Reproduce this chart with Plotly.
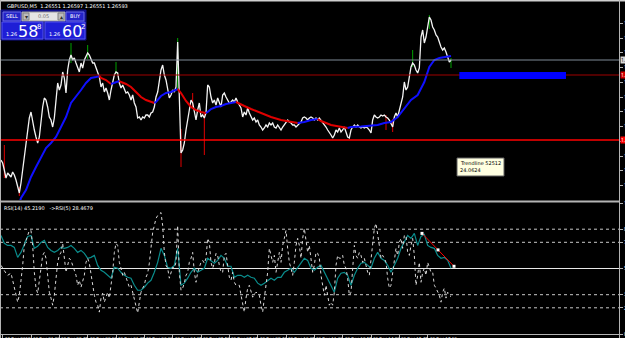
import plotly.graph_objects as go

W, H = 625, 338
PLOT_R = 619

# ---------------- data ----------------
close = [1.2559,1.2556,1.2549,1.2541,1.2546,1.2544,1.2542,1.2547,1.2544,1.2539,
 1.2532,1.2526,1.2536,1.2549,1.2562,1.2579,1.2592,1.2601,1.2607,1.2596,
 1.2589,1.2582,1.2576,1.2582,1.2599,1.2612,1.2621,1.2619,1.2612,1.2602,
 1.2599,1.2592,1.2601,1.2622,1.2636,1.2629,1.2634,1.2647,1.2641,1.2626,
 1.2649,1.2659,1.2664,1.2659,1.2661,1.2656,1.2652,1.2647,1.2656,1.2651,
 1.2659,1.2662,1.2666,1.2664,1.2659,1.2656,1.2656,1.2651,1.2646,1.2642,
 1.2632,1.2636,1.2627,1.2631,1.2626,1.2619,1.2629,1.2636,1.2644,1.2647,
 1.2646,1.2636,1.2631,1.2634,1.2629,1.2626,1.2627,1.2624,1.2619,1.2624,
 1.2616,1.2612,1.2601,1.2602,1.2599,1.2602,1.2601,1.2604,1.2604,1.2602,
 1.2606,1.2607,1.2612,1.2622,1.2627,1.2639,1.2649,1.2654,1.2644,1.2639,
 1.2631,1.2621,1.2624,1.2629,1.2627,1.2632,1.2677,1.2609,1.2566,1.2569,
 1.2576,1.2589,1.2599,1.2606,1.2619,1.2616,1.2609,1.2599,1.2609,1.2616,
 1.2602,1.2604,1.2601,1.2606,1.2634,1.2632,1.2622,1.2616,1.2619,1.2614,
 1.2621,1.2616,1.2612,1.2624,1.2626,1.2622,1.2619,1.2616,1.2617,1.2619,
 1.2617,1.2621,1.2617,1.2614,1.2611,1.2602,1.2607,1.2604,1.2611,1.2606,
 1.2602,1.2599,1.2601,1.2597,1.2599,1.2594,1.2592,1.2589,1.2591,1.2594,
 1.2592,1.2596,1.2594,1.2596,1.2592,1.2591,1.2594,1.2592,1.2589,1.2592,
 1.2594,1.2597,1.2599,1.2597,1.2596,1.2594,1.2594,1.2592,1.2594,1.2596,
 1.2597,1.2601,1.2602,1.2601,1.2599,1.2601,1.2602,1.2601,1.2599,1.2601,
 1.2599,1.2601,1.2599,1.2596,1.2594,1.2592,1.2589,1.2587,1.2584,1.2581,
 1.2584,1.2589,1.2587,1.2591,1.2587,1.2589,1.2592,1.2587,1.2582,1.2581,
 1.2589,1.2592,1.2594,1.2592,1.2594,1.2592,1.2591,1.2592,1.2591,1.2592,
 1.2591,1.2589,1.2586,1.2599,1.2604,1.2602,1.2601,1.2602,
 1.2604,1.2603,1.2604,1.2602,1.2601,1.2599,1.2596,1.2592,1.2602,1.2606,
 1.2602,1.2609,1.2616,1.2622,1.2637,1.2629,1.2632,1.2642,1.2652,1.2656,
 1.2654,1.2649,1.2646,1.2651,1.2682,1.2689,1.2676,1.2682,1.2692,1.2702,
 1.2699,1.2692,1.2689,1.2684,1.2682,1.2676,1.2672,1.2669,1.2671,1.2667,
 1.2662,1.2657,1.2659]

# a few visible candle wicks: bar, high, low
wick_bar  = [2, 11, 42, 52, 69, 106, 108, 115, 122, 231, 235, 247, 257, 270]
wick_high = [1.2574, 1.2532, 1.2676, 1.2674, 1.2657, 1.2681, 1.2590, 1.2626, 1.2606, 1.2604, 1.2600, 1.2669, 1.2704, 1.2661]
wick_low  = [1.2541, 1.2523, 1.2656, 1.2660, 1.2645, 1.2629, 1.2552, 1.2610, 1.2564, 1.2589, 1.2587, 1.2652, 1.2690, 1.2651]

# moving average (colour follows its direction)
ma_bar = [10,12,15,18,21,24,27,30,33,36,39,42,45,48,51,54,57,59,60,63,
 66,69,71,72,75,78,81,84,87,90,92,93,96,99,102,105,106,108,111,114,
 117,120,123,124,126,129,132,135,138,141,144,146,150,156,162,168,174,178,182,186,
 190,192,198,204,208,210,216,222,226,230,234,238,242,246,250,254,257,260,263,266,268,270]
ma_val = [1.2509,1.2521,1.2529,1.2542,1.2552,1.2562,1.2571,1.2576,1.2582,1.2592,
 1.2602,1.2616,1.2622,1.2629,1.2636,1.2641,1.2642,1.2643,1.2641,1.2639,
 1.2635,1.2637,1.2638,1.2637,1.2635,1.2632,1.2627,1.2622,1.2619,1.2617,
 1.2616,1.2617,1.2623,1.2626,1.2627,1.2629,1.2630,1.2626,1.2618,1.2612,
 1.2609,1.2607,1.2606,1.2607,1.2610,1.2612,1.2613,1.2615,1.2616,1.2617,
 1.2615,1.2613,1.2610,1.2606,1.2602,1.2599,1.2597,1.2596,1.2597,1.2599,
 1.2600,1.2598,1.2594,1.2592,1.2591,1.2592,1.25925,1.2593,1.2594,1.2596,
 1.2597,1.2602,1.2611,1.2619,1.2624,1.2637,1.2652,1.2659,1.2661,1.2662,1.26625,1.2663]

bid_price = 1.2659
level_dark = 1.2644
level_red = 1.2579
zone_bars = [275, 339]
zone_prices = [1.2640, 1.2647]
price_ticks = [1.2696,1.2681,1.2667,1.2652,1.2637,1.2622,1.2608,1.2593,1.2578,1.2563,1.2549,1.2534]

rsi5 = [52.4,50.2,48.6,46.4,44.8,45.6,46.4,41.0,35.0,28.9,
 24.3,29.6,39.5,52.4,67.6,71.4,75.2,79.0,79.0,67.6,
 47.1,35.0,31.2,39.5,50.2,60.0,62.3,57.8,47.1,31.9,
 27.4,22.0,29.6,42.6,54.7,60.0,62.3,69.2,60.0,47.1,
 52.4,57.8,56.2,52.4,47.1,44.8,37.2,41.0,35.7,39.5,
 44.8,54.7,57.8,54.0,44.8,35.0,29.6,24.3,22.0,16.7,
 27.4,31.2,24.3,28.1,31.9,27.4,37.2,47.1,62.3,69.2,
 67.6,54.7,50.2,44.8,47.1,43.3,39.5,35.7,37.2,31.9,
 24.3,19.8,16.0,24.3,31.9,35.0,37.2,43.3,46.4,54.0,
 67.6,77.5,82.8,88.2,90.4,92.0,92.7,82.8,62.3,52.4,
 50.2,42.6,47.1,50.9,50.2,54.7,82.8,47.1,33.4,35.0,
 38.8,44.8,47.1,54.7,57.8,62.3,47.1,39.5,47.1,50.2,
 54.7,56.2,54.0,57.8,73.0,69.9,54.7,50.2,54.0,61.6,
 60.0,52.4,47.1,47.1,60.0,61.6,52.4,43.3,41.0,47.1,
 39.5,37.2,37.2,37.2,29.6,22.0,16.7,27.4,35.0,37.2,
 31.9,28.1,30.4,31.9,31.2,29.6,22.0,16.7,27.4,37.2,
 47.1,65.4,60.0,54.7,60.0,47.1,54.7,62.3,54.7,67.6,
 73.0,79.0,65.4,54.7,50.2,44.8,54.7,67.6,73.0,67.6,
 57.8,73.0,80.6,69.9,62.3,67.6,54.7,47.1,52.4,62.3,
 61.6,57.8,44.8,37.2,29.6,37.2,29.6,22.0,24.3,22.0,
 31.9,52.4,60.0,57.8,57.8,60.0,52.4,50.2,42.6,29.6,
 31.9,47.1,67.6,60.0,57.8,62.3,60.0,54.7,57.8,52.4,
 47.1,44.8,57.8,73.0,80.6,84.4,77.5,67.6,57.8,60.0,
 57.8,54.7,42.6,35.0,37.2,47.1,54.7,65.4,60.0,69.9,
 73.0,65.4,75.2,75.2,62.3,60.0,67.6,73.0,60.0,37.2,
 44.8,54.7,39.5,47.1,50.2,44.8,54.7,50.2,47.1,47.1,
 37.2,35.0,31.9,29.6,24.3,31.9,35.0,27.4,31.9,29.6,28.5]

rsi14 = [75.2,69.2,67.6,67.6,66.1,58.5,62.3,68.4,74.5,75.2,
 65.4,66.9,69.9,71.4,66.1,63.8,62.3,63.8,66.1,65.4,
 66.1,67.6,65.4,62.3,63.8,61.6,57.8,58.5,60.0,52.4,
 48.6,47.1,44.8,42.6,50.9,50.2,47.1,44.8,43.3,42.6,
 37.2,33.4,33.4,35.7,38.8,41.0,47.1,54.7,65.4,60.0,
 50.9,50.2,52.4,65.4,37.2,38.8,42.6,47.1,50.2,47.1,
 48.6,50.2,57.8,56.2,54.0,56.2,60.0,57.8,51.7,51.7,
 43.3,44.8,44.8,43.3,44.8,43.3,42.6,38.8,37.2,38.8,
 41.0,42.6,41.0,43.3,43.3,47.1,48.6,50.2,47.1,50.9,
 54.7,57.8,56.2,50.2,48.6,50.9,52.4,47.1,42.6,37.2,
 31.9,42.6,46.4,47.1,44.8,37.2,44.8,50.2,54.0,54.7,
 52.4,50.2,57.8,62.3,57.8,56.2,52.4,47.1,52.4,57.8,
 65.4,69.9,75.2,73.0,76.8,67.6,74.5,76.0,67.6,66.1,
 65.4,60.0,57.8,58.5,56.2,50.2]

rsi_levels_dot = [20, 30, 70, 80]
rsi_mid = 50
rsi_ticks = [0, 20, 30, 50, 70, 80, 100]
trend_bars = [252.6, 262.2, 271.8]
trend_vals = [76.8, 64.2, 51.7]

date_bars = [1,18,35,52,69,86,103,120,137,154,171,188,205,222,239,256]
date_labels = ["18 Dec 2018","18 Dec 21:20","18 Dec 22:45","19 Dec 00:10","19 Dec 01:35",
 "19 Dec 03:00","19 Dec 04:25","19 Dec 05:50","19 Dec 07:15","19 Dec 08:40","19 Dec 10:05",
 "19 Dec 11:30","19 Dec 12:55","19 Dec 14:20","19 Dec 15:45","19 Dec 17:10"]

title_text = "GBPUSD,M5  1.26551 1.26597 1.26551 1.26593"
rsi_label = "RSI(14) 45.2190   ->RSI(5) 28.4679"
tooltip_lines = ["Trendline 52512", "24.0624"]

# ---------------- figure ----------------
def X(p):
    return p / W

def Y(p):
    return 1 - p / H

XR = [-0.6, 370.8]
fig = go.Figure()

# wicks
for col, cond in (("#00a000", True), ("#e00000", False)):
    wx, wy = [], []
    for b, hi, lo in zip(wick_bar, wick_high, wick_low):
        up = close[b] >= close[b - 1]
        if up == cond:
            wx += [b, b, None]
            wy += [lo, hi, None]
    fig.add_trace(go.Scatter(x=wx, y=wy, mode="lines", line=dict(color=col, width=1),
                             xaxis="x", yaxis="y", hoverinfo="skip"))

fig.add_trace(go.Scatter(x=list(range(len(close))), y=close, mode="lines",
                         line=dict(color="#f4f4f4", width=1.3), xaxis="x", yaxis="y", hoverinfo="skip"))

# MA coloured by direction
segs = []
for k in range(len(ma_val) - 1):
    c = "#1010ff" if ma_val[k + 1] >= ma_val[k] else "#e00000"
    if segs and segs[-1][0] == c:
        segs[-1][1].append(k + 1)
    else:
        segs.append([c, [k, k + 1]])
for c, ks in segs:
    fig.add_trace(go.Scatter(x=[ma_bar[k] for k in ks], y=[ma_val[k] for k in ks], mode="lines",
                             line=dict(color=c, width=2), xaxis="x", yaxis="y", hoverinfo="skip"))

# RSI
n14 = len(rsi14)
fig.add_trace(go.Scatter(x=[2 * k for k in range(n14)], y=rsi14, mode="lines",
                         line=dict(color="#0a8c8c", width=1.2), xaxis="x2", yaxis="y2", hoverinfo="skip"))
fig.add_trace(go.Scatter(x=list(range(len(rsi5))), y=rsi5, mode="lines",
                         line=dict(color="#d8d8d8", width=1, dash="dot"), xaxis="x2", yaxis="y2", hoverinfo="skip"))
fig.add_trace(go.Scatter(x=[trend_bars[0], trend_bars[-1]], y=[trend_vals[0], trend_vals[-1]], mode="lines",
                         line=dict(color="#ff0000", width=1), xaxis="x2", yaxis="y2", hoverinfo="skip"))
fig.add_trace(go.Scatter(x=trend_bars, y=trend_vals, mode="markers",
                         marker=dict(color="white", size=3, symbol="square"), xaxis="x2", yaxis="y2", hoverinfo="skip"))

shapes = []
pr = X(PLOT_R)
# horizontal price lines
shapes.append(dict(type="line", xref="paper", yref="y", x0=0, x1=pr, y0=bid_price, y1=bid_price,
                   line=dict(color="#7f8a96", width=1)))
shapes.append(dict(type="line", xref="paper", yref="y", x0=0, x1=pr, y0=level_dark, y1=level_dark,
                   line=dict(color="#a00000", width=1)))
shapes.append(dict(type="line", xref="paper", yref="y", x0=0, x1=pr, y0=level_red, y1=level_red,
                   line=dict(color="#ff0000", width=1.6)))
shapes.append(dict(type="rect", xref="x", yref="y", x0=zone_bars[0], x1=zone_bars[1],
                   y0=zone_prices[0], y1=zone_prices[1], fillcolor="#0000ff", line=dict(width=0)))
# RSI levels
for lv in rsi_levels_dot:
    shapes.append(dict(type="line", xref="paper", yref="y2", x0=0, x1=pr, y0=lv, y1=lv,
                       line=dict(color="#c8c8c8", width=1, dash="dot"), layer="below"))
shapes.append(dict(type="line", xref="paper", yref="y2", x0=0, x1=pr, y0=rsi_mid, y1=rsi_mid,
                   line=dict(color="#e8e8e8", width=1.2), layer="below"))
# frame
fr = "#b4b4b4"
shapes.append(dict(type="rect", xref="paper", yref="paper", x0=0, x1=1, y0=Y(1.5), y1=1,
                   fillcolor="#cfcfcf", line=dict(width=0)))
shapes.append(dict(type="line", xref="paper", yref="paper", x0=X(PLOT_R + 0.5), x1=X(PLOT_R + 0.5), y0=0, y1=1,
                   line=dict(color=fr, width=1)))
shapes.append(dict(type="line", xref="paper", yref="paper", x0=X(0.5), x1=X(0.5), y0=0, y1=1,
                   line=dict(color=fr, width=1)))
shapes.append(dict(type="rect", xref="paper", yref="paper", x0=0, x1=pr, y0=Y(202.5), y1=Y(200.5),
                   fillcolor=fr, line=dict(width=0)))
shapes.append(dict(type="line", xref="paper", yref="paper", x0=0, x1=pr, y0=Y(334.5), y1=Y(334.5),
                   line=dict(color=fr, width=1)))

# trading panel boxes
def box(x0, y0, x1, y1, fill, border=None):
    shapes.append(dict(type="rect", xref="paper", yref="paper", x0=X(x0), x1=X(x1), y0=Y(y1), y1=Y(y0),
                       fillcolor=fill, line=dict(color=border or fill, width=1)))

box(1, 10, 86, 40, "#10108a")
box(3, 12, 21, 21, "#2424c8", "#6a6ae8")
box(22, 12, 65, 21, "#e4e4e4", "#9a9a9a")
box(23, 13, 29, 20, "#bdbdbd", "#808080")
box(58, 13, 64, 20, "#bdbdbd", "#808080")
box(66, 12, 84, 21, "#2424c8", "#6a6ae8")
box(2, 22, 43, 39, "#1e1ed6", "#5252f0")
box(45, 22, 85, 39, "#1e1ed6", "#5252f0")
# tooltip box
box(457, 158, 504, 176, "#ffffe1", "#606060")

annotations = []
def txt(x, y, s, size, color="white", anchor="left", yanchor="middle", bg=None):
    annotations.append(dict(xref="paper", yref="paper", x=X(x), y=Y(y), text=s, showarrow=False,
                            xanchor=anchor, yanchor=yanchor, font=dict(size=size, color=color, family="DejaVu Sans"),
                            bgcolor=bg, borderpad=0))

txt(6, 5.5, title_text, 5)
txt(12, 16.5, "SELL", 5, anchor="center")
txt(75, 16.5, "BUY", 5, anchor="center")
txt(43.5, 16.5, "0.05", 5, color="#707070", anchor="center")
txt(26, 16.5, "▾", 6, color="#303030", anchor="center")
txt(61, 16.5, "▴", 6, color="#303030", anchor="center")
txt(5, 34, "1.26", 5)
txt(17, 31, "58", 16)
txt(36, 27, "8", 7)
txt(48, 34, "1.26", 5)
txt(61, 31, "60", 16)
txt(80, 27, "2", 7)
txt(459, 163, tooltip_lines[0], 5)
annotations[-1]["font"]["color"] = "black"
txt(459, 170, tooltip_lines[1], 5)
annotations[-1]["font"]["color"] = "black"
txt(3, 208, rsi_label, 5)

# price tags on the right edge
for pval, bg in ((bid_price, "#d8d8d8"), (level_dark, "#d00000"), (level_red, "#ff0000")):
    annotations.append(dict(xref="paper", yref="y", x=X(620), y=pval, text=f"{pval:.5f}", showarrow=False,
                            xanchor="left", yanchor="middle",
                            font=dict(size=5, color="white" if bg != "#d8d8d8" else "black"),
                            bgcolor=bg, borderpad=0))

# date labels
for b, s in zip(date_bars, date_labels):
    annotations.append(dict(xref="x2", yref="paper", x=b + 0.6, y=Y(334.5), text=s, showarrow=False,
                            xanchor="left", yanchor="top", font=dict(size=4, color="white", family="DejaVu Sans"),
                            borderpad=0))

fig.update_layout(
    width=W, height=H, autosize=False,
    margin=dict(l=0, r=0, t=0, b=0, pad=0),
    paper_bgcolor="black", plot_bgcolor="black",
    showlegend=False,
    shapes=shapes, annotations=annotations,
    xaxis=dict(domain=[0, pr], range=XR, visible=False, anchor="y", fixedrange=True),
    xaxis2=dict(domain=[0, pr], range=XR, anchor="y2", showticklabels=False, ticks="outside", ticklen=3,
                tickcolor=fr, tickvals=date_bars, showgrid=False, zeroline=False, showline=False, fixedrange=True),
    yaxis=dict(domain=[Y(200), Y(3)], range=[1.2519, 1.2716], side="right", anchor="x",
               tickvals=price_ticks, tickformat=".4f", ticks="outside", ticklen=3, tickcolor=fr,
               tickfont=dict(size=5, color="white"), showgrid=False, zeroline=False, showline=False,
               automargin=False, fixedrange=True),
    yaxis2=dict(domain=[Y(334), Y(203)], range=[0, 100], side="right", anchor="x2",
                tickvals=rsi_ticks, ticks="outside", ticklen=3, tickcolor=fr,
                tickfont=dict(size=5, color="white"), showgrid=False, zeroline=False, showline=False,
                automargin=False, fixedrange=True),
)

fig.write_html("out.html")
